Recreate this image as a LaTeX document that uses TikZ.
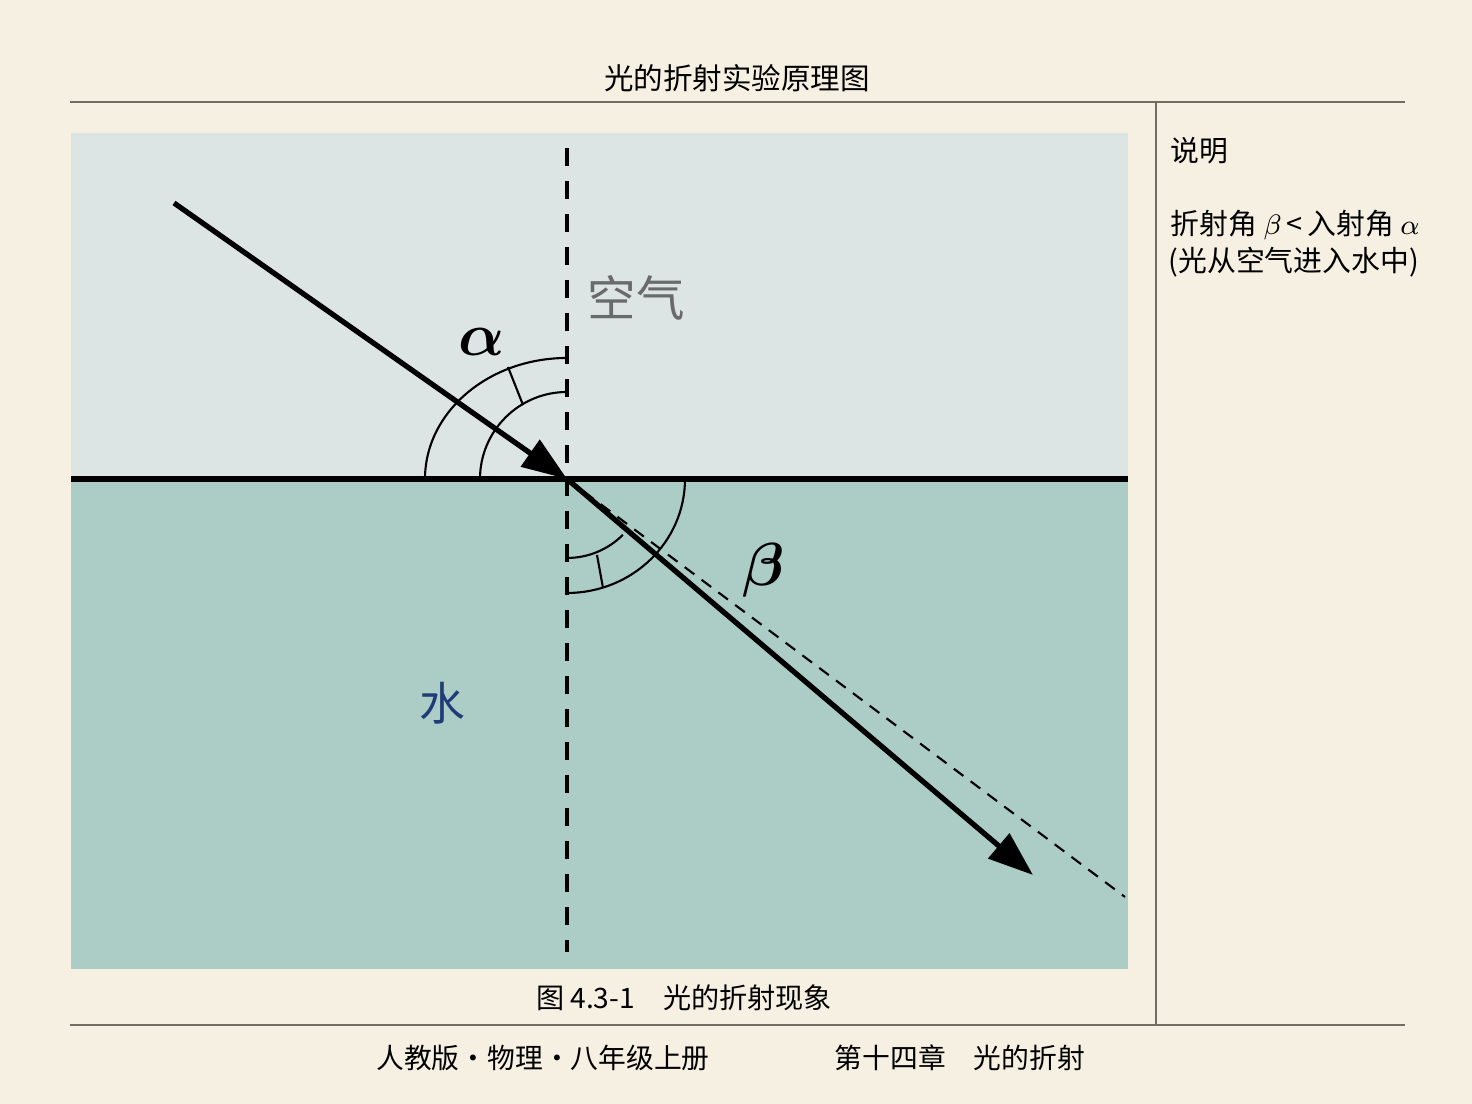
\documentclass[tikz,border=0pt]{standalone}
\usepackage{amsmath}
\usepackage{fontspec}
\setmainfont{Noto Sans CJK SC}
\usetikzlibrary{arrows.meta}
\definecolor{paper}{HTML}{F5F0E2}
\definecolor{airc}{HTML}{DDE5E4}
\definecolor{waterc}{HTML}{ABCDC6}
\definecolor{rulec}{HTML}{6E6E62}
\definecolor{labgray}{HTML}{6A6A6A}
\definecolor{labblue}{HTML}{1F3C78}
\tikzset{
  ray/.style={line width=1.5pt,-{Triangle[length=0.45cm,width=0.32cm]}},
  anglearc/.style={line width=0.6pt},
  normalline/.style={line width=0.9pt,dash pattern=on 0.18cm off 0.15cm},
  rulebar/.style={draw=rulec,line width=0.6pt},
  txt/.style={font=\fontsize{8.2pt}{10pt}\selectfont,inner sep=0pt}
}
\begin{document}
\begin{tikzpicture}[x=0.01cm,y=0.01cm]
  \useasboundingbox (0,0) rectangle (1472,1104);
  \fill[paper] (0,0) rectangle (1472,1104);
  % header and frame
  \node[txt,font=\fontsize{8.4pt}{10pt}\selectfont] (title) at (737,1026) {光的折射实验原理图};
  \draw[rulebar] (70,1002) -- (1405,1002);
  \draw[rulebar] (1156,1002) -- (1156,79);
  \draw[rulebar] (70,79) -- (1405,79);
  % media
  \fill[airc] (71,625) rectangle (1128,971);
  \fill[waterc] (71,135) rectangle (1128,625);
  \coordinate (O) at (567,625);
  \coordinate (src) at (174,901);
  \coordinate (dst) at (1033,229);
  \coordinate (ext) at (1125,207);
  \coordinate (ntop) at (567,956);
  \coordinate (nbot) at (567,152);
  \draw[normalline] (ntop) -- (nbot);
  \draw[line width=0.6pt,dash pattern=on 0.12cm off 0.09cm] (O) -- (ext);
  \draw[line width=1.5pt] (71,625) -- (1128,625);
  % angle marks
  \draw[anglearc] ([shift={(-142,0)}]O) arc[start angle=180,end angle=90,x radius=142,y radius=121];
  \draw[anglearc] ([shift={(-87,0)}]O) arc[start angle=180,end angle=90,radius=87];
  \draw[anglearc] ([shift={(-44,74)}]O) -- ([shift={(-59,112)}]O);
  \draw[anglearc] ([shift={(118,0)}]O) arc[start angle=0,end angle=-90,x radius=118,y radius=114];
  \draw[anglearc] ([shift={(0,-79)}]O) arc[start angle=-90,end angle=-45,radius=79];
  \draw[anglearc] ([shift={(30,-76)}]O) -- ([shift={(36,-109)}]O);
  % rays
  \draw[ray] (src) -- (O);
  \draw[ray] (O) -- (dst);
  % labels
  \node (alpha) at (482,762) {\fontsize{17pt}{19pt}\selectfont$\boldsymbol{\alpha}$};
  \node (beta) at (764,534) {\fontsize{17pt}{19pt}\selectfont$\boldsymbol{\beta}$};
  \node[txt,text=labgray,font=\fontsize{13.8pt}{15pt}\selectfont] (air) at (636,806) {空气};
  \node[txt,text=labblue,font=\fontsize{13pt}{15pt}\selectfont] (water) at (442,401) {水};
  \node[txt,font=\fontsize{8pt}{10pt}\selectfont] (caption) at (684,106) {图 4.3-1\hspace{1em}光的折射现象};
  % side notes
  \node[txt,anchor=west] (note) at (1170,953) {说明};
  \node[txt,anchor=west] (rule1) at (1170,879) {折射角 $\beta$\,<\,入射角 $\alpha$};
  \node[txt,anchor=west] (rule2) at (1168,842) {(光从空气进入水中)};
  % footer
  \node[txt,font=\fontsize{7.9pt}{10pt}\selectfont] (book) at (543,46) {人教版・物理・八年级上册};
  \node[txt,font=\fontsize{7.9pt}{10pt}\selectfont] (chap) at (960,46) {第十四章\hspace{1em}光的折射};
\end{tikzpicture}
\end{document}
